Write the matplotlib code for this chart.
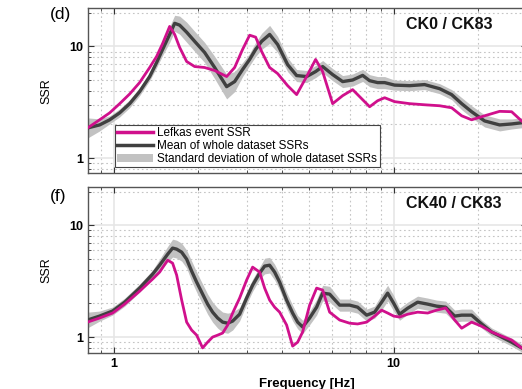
import numpy as np
import matplotlib
matplotlib.use("Agg")
import matplotlib.pyplot as plt
from matplotlib.ticker import FixedLocator, NullFormatter, LogLocator
from matplotlib.patches import Patch
from matplotlib.lines import Line2D

plt.rcParams['font.family'] = ['Liberation Sans', 'DejaVu Sans']

# ---- panel (d): CK0 / CK83 ----
freq_d = [0.807, 0.891, 0.968, 1.051, 1.141, 1.238, 1.345, 1.424, 1.496, 1.585,
          1.652, 1.721, 1.823, 1.947, 2.113, 2.295, 2.533, 2.705, 2.888, 3.060,
          3.215, 3.378, 3.607, 3.852, 4.182, 4.504, 4.890, 5.265, 5.578, 6.056,
          6.576, 7.140, 7.752, 8.210, 8.766, 9.288, 10.08, 11.41, 12.90, 14.60,
          16.11, 17.50, 18.99, 21.13, 23.91, 26.39, 28.65]
lefkas_d = [1.86, 2.20, 2.54, 3.07, 3.75, 4.74, 6.47, 8.13, 10.6, 15.1,
            12.8, 9.79, 7.32, 6.60, 6.47, 6.08, 5.37, 6.47, 9.40, 12.6,
            12.1, 9.0, 6.47, 5.71, 4.45, 3.70, 5.37, 7.64, 5.95, 3.07,
            3.62, 4.10, 3.33, 2.88, 3.26, 3.47, 3.20, 3.07, 3.00, 2.94,
            2.82, 2.39, 2.20, 2.39, 2.62, 2.60, 2.15]
mean_d = [1.86, 1.98, 2.20, 2.54, 3.07, 3.93, 5.37, 7.17, 9.40, 12.8,
          16.1, 15.5, 13.4, 11.1, 8.83, 6.47, 4.36, 4.84, 6.21, 7.64,
          9.40, 11.1, 12.8, 10.4, 6.87, 5.48, 5.37, 5.95, 6.60, 5.59,
          4.84, 5.00, 5.50, 4.93, 4.74, 4.74, 4.50, 4.45, 4.55, 4.18,
          3.70, 3.07, 2.60, 2.15, 1.98, 2.02, 2.07]
# standard deviation in log10 units
sd_d = [0.09, 0.054, 0.036, 0.036, 0.036, 0.036, 0.036, 0.045, 0.054, 0.072,
        0.072, 0.081, 0.09, 0.09, 0.09, 0.10, 0.11, 0.09, 0.063, 0.054,
        0.063, 0.072, 0.081, 0.072, 0.063, 0.054, 0.054, 0.054, 0.054, 0.054,
        0.054, 0.054, 0.054, 0.054, 0.054, 0.054, 0.045, 0.045, 0.045, 0.045,
        0.045, 0.054, 0.054, 0.054, 0.054, 0.045, 0.045]

# ---- panel (f): CK40 / CK83 ----
freq_f = [0.807, 0.891, 0.992, 1.095, 1.238, 1.378, 1.460, 1.559, 1.624, 1.679,
          1.750, 1.823, 1.899, 1.979, 2.079, 2.166, 2.257, 2.352, 2.451, 2.554,
          2.661, 2.818, 2.985, 3.136, 3.322, 3.462, 3.607, 3.758, 3.916, 4.148,
          4.358, 4.541, 4.732, 5.012, 5.309, 5.578, 5.908, 6.415, 6.966, 7.437,
          8.011, 8.553, 9.06, 9.52, 10.0, 10.50, 11.22, 12.18, 13.23, 14.24,
          15.34, 16.52, 17.50, 18.99, 20.62, 22.39, 24.31, 26.39, 28.65]
lefkas_f = [1.36, 1.48, 1.64, 1.97, 2.57, 3.30, 3.81, 4.87, 4.58, 3.58,
            2.14, 1.36, 1.155, 1.04, 0.80, 0.90, 1.0, 1.04, 1.086, 1.28,
            1.64, 2.23, 3.23, 4.22, 3.81, 2.74, 2.14, 1.85, 1.67, 1.28,
            0.83, 0.90, 1.11, 1.93, 2.74, 2.63, 1.67, 1.42, 1.33, 1.31,
            1.36, 1.54, 1.74, 1.64, 1.54, 1.51, 1.60, 1.67, 1.64, 1.74,
            1.82, 1.42, 1.20, 1.36, 1.25, 1.11, 1.02, 0.94, 0.80]
mean_f = [1.42, 1.54, 1.71, 2.05, 2.74, 3.65, 4.39, 5.50, 6.24, 6.11,
          5.74, 4.97, 3.89, 3.10, 2.42, 1.97, 1.67, 1.48, 1.36, 1.33,
          1.39, 1.60, 2.23, 2.91, 3.73, 4.31, 4.39, 3.81, 3.10, 2.14,
          1.64, 1.36, 1.23, 1.48, 1.85, 2.47, 2.42, 1.93, 1.93, 1.85,
          1.57, 1.67, 2.05, 2.47, 2.01, 1.60, 1.81, 2.05, 1.97, 1.89,
          1.85, 1.54, 1.57, 1.57, 1.31, 1.11, 1.0, 0.90, 0.80]
sd_f = [0.07, 0.045, 0.036, 0.036, 0.036, 0.036, 0.054, 0.07, 0.08, 0.08,
        0.08, 0.08, 0.09, 0.09, 0.09, 0.09, 0.09, 0.09, 0.09, 0.09,
        0.08, 0.06, 0.054, 0.054, 0.054, 0.07, 0.07, 0.07, 0.07, 0.07,
        0.07, 0.06, 0.06, 0.06, 0.07, 0.07, 0.07, 0.054, 0.054, 0.054,
        0.054, 0.054, 0.07, 0.07, 0.07, 0.054, 0.054, 0.054, 0.054, 0.054,
        0.054, 0.054, 0.054, 0.054, 0.036, 0.036, 0.036, 0.036, 0.036]

MAGENTA = '#d0108c'
DARK = '#404040'
BAND = '#c2c2c2'


def draw_panel(ax, f, lef, mean, sd, ylim, title):
    f = np.array(f)
    mean = np.array(mean)
    fac = 10 ** np.array(sd)
    ax.fill_between(f, mean / fac, mean * fac, color=BAND, lw=0, zorder=2)
    ax.plot(f, mean, color=DARK, lw=2.4, zorder=3)
    ax.plot(f, lef, color=MAGENTA, lw=2.0, zorder=4)
    ax.set_xscale('log')
    ax.set_yscale('log')
    ax.set_xlim(0.81, 30)
    ax.set_ylim(*ylim)
    ax.xaxis.set_major_locator(FixedLocator([1, 10]))
    ax.yaxis.set_major_locator(FixedLocator([1, 10]))
    ax.xaxis.set_minor_locator(LogLocator(base=10, subs=np.arange(2, 10)))
    ax.yaxis.set_minor_locator(LogLocator(base=10, subs=np.arange(2, 10)))
    ax.xaxis.set_minor_formatter(NullFormatter())
    ax.yaxis.set_minor_formatter(NullFormatter())
    ax.set_yticklabels(['1', '10'], fontweight='bold', fontsize=9)
    ax.grid(which='major', color='#e6e6e6', lw=1.2, ls='-', zorder=0)
    ax.grid(which='minor', color='#c4c4c4', lw=0.8, ls=(0, (1.5, 2.5)), zorder=0)
    ax.set_axisbelow(True)
    ax.tick_params(which='both', direction='in', top=True, right=True,
                   color='#333333')
    ax.tick_params(which='major', length=4)
    ax.tick_params(which='minor', length=2.5)
    for s in ax.spines.values():
        s.set_color('#555555')
        s.set_linewidth(1.0)
    ax.set_ylabel('SSR', fontsize=9, labelpad=12)
    ax.text(0.724, 0.9, title, transform=ax.transAxes, fontsize=11.5,
            fontweight='bold', color='#111111', va='center', ha='left')


fig = plt.figure(figsize=(5.22, 3.89), dpi=100)
ax1 = fig.add_axes([0.1686, 0.555, 0.8414, 0.424])
ax2 = fig.add_axes([0.1686, 0.0925, 0.8414, 0.427])

draw_panel(ax1, freq_d, lefkas_d, mean_d, sd_d, (0.733, 22), 'CK0 / CK83')
draw_panel(ax2, freq_f, lefkas_f, mean_f, sd_f, (0.72, 22), 'CK40 / CK83')

ax1.set_xticklabels([])
ax2.set_xticklabels(['1', '10'], fontweight='bold', fontsize=9)

handles = [Line2D([], [], color=MAGENTA, lw=2.5),
           Line2D([], [], color=DARK, lw=2.5),
           Patch(facecolor=BAND, edgecolor='none')]
labels = ['Lefkas event SSR', 'Mean of whole dataset SSRs',
          'Standard deviation of whole dataset SSRs']
leg = ax1.legend(handles, labels, loc='lower left',
                 bbox_to_anchor=(0.061, 0.035), fontsize=8.5, frameon=True,
                 fancybox=False, framealpha=1, edgecolor='#444444',
                 handlelength=3.0, handletextpad=0.4, labelspacing=0.08,
                 borderpad=0.2, borderaxespad=0)
leg.get_frame().set_linewidth(0.8)
leg.set_zorder(10)

fig.text(50 / 522, 1 - 15 / 389, '(d)', fontsize=12.5, va='center', ha='left')
fig.text(50 / 522, 1 - 196 / 389, '(f)', fontsize=12.5, va='center', ha='left')
fig.text(307 / 522, 1 - 384 / 389, 'Frequency [Hz]', fontsize=9.5,
         fontweight='bold', va='center', ha='center')

plt.savefig('out.png', dpi=100)
